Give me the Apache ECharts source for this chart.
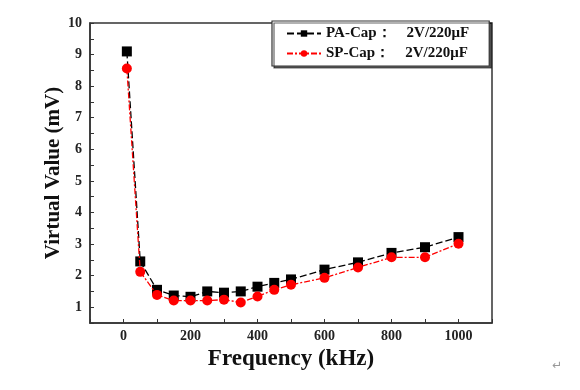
<!DOCTYPE html>
<html><head><meta charset="utf-8">
<script src="https://cdn.jsdelivr.net/npm/echarts@6/dist/echarts.min.js"></script>
<style>html,body{margin:0;padding:0;background:#fff}#c{width:580px;height:390px}</style>
</head><body><div id="c"></div>
<script>
const frequencies = [10, 50, 100, 150, 200, 250, 300, 350, 400, 450, 500, 600, 700, 800, 900, 1000];
const paCap = [9.1, 2.45, 1.55, 1.37, 1.33, 1.5, 1.46, 1.5, 1.65, 1.77, 1.88, 2.19, 2.42, 2.72, 2.9, 3.22];
const spCap = [8.56, 2.12, 1.39, 1.21, 1.21, 1.21, 1.24, 1.15, 1.34, 1.55, 1.71, 1.93, 2.26, 2.58, 2.58, 3.01];
const seriesNames = ['PA-Cap：    2V/220μF', 'SP-Cap：    2V/220μF'];
const xTitle = 'Frequency (kHz)';
const yTitle = 'Virtual Value (mV)';

const font = '"Liberation Serif", "DejaVu Serif", serif';
const chart = echarts.init(document.getElementById('c'));
chart.setOption({
  animation: false,
  backgroundColor: '#fff',
  grid: { left: 90, right: 88, top: 23, bottom: 67, show: true, borderColor: '#333', borderWidth: 1.5 },
  xAxis: {
    type: 'value', min: -100, max: 1100, interval: 100,
    axisLine: { show: true, onZero: false, lineStyle: { color: '#333', width: 1.5 } },
    axisTick: { show: true, inside: true, length: 4, lineStyle: { color: '#333' } },
    splitLine: { show: false },
    axisLabel: { fontFamily: font, fontWeight: 'bold', fontSize: 14, color: '#222', margin: 6,
      formatter: v => (v >= 0 && v % 200 === 0) ? String(v) : '' },
    name: xTitle, nameLocation: 'middle', nameGap: 24,
    nameTextStyle: { fontFamily: font, fontWeight: 'bold', fontSize: 23, color: '#111' }
  },
  yAxis: {
    type: 'value', min: 0.5, max: 10, interval: 0.5,
    axisLine: { show: true, onZero: false, lineStyle: { color: '#333', width: 1.5 } },
    axisTick: { show: true, inside: true, length: 4, lineStyle: { color: '#333' } },
    splitLine: { show: false },
    axisLabel: { fontFamily: font, fontWeight: 'bold', fontSize: 14, color: '#222', margin: 8,
      formatter: v => (Math.abs(v - Math.round(v)) < 1e-6) ? String(Math.round(v)) : '' },
    name: yTitle, nameLocation: 'middle', nameGap: 26, nameRotate: 90, nameMoveOverlap: false,
    nameTextStyle: { fontFamily: font, fontWeight: 'bold', fontSize: 21, color: '#111' }
  },
  legend: {
    left: 272, top: 21, orient: 'vertical', itemGap: 5, itemWidth: 34, itemHeight: 8,
    padding: [5, 20, 5, 14],
    borderColor: '#333', borderWidth: 1.2, backgroundColor: '#fff',
    shadowColor: 'rgba(0,0,0,0.6)', shadowOffsetX: 2, shadowOffsetY: 2, shadowBlur: 0,
    textStyle: { fontFamily: font, fontWeight: 'bold', fontSize: 15, color: '#111' },
    data: seriesNames
  },
  series: [
    { name: seriesNames[0], type: 'line', data: frequencies.map((f, i) => [f, paCap[i]]),
      symbol: 'rect', symbolSize: 10, itemStyle: { color: '#000' },
      lineStyle: { color: '#000', width: 1.3, type: [7, 3] }, z: 2 },
    { name: seriesNames[1], type: 'line', data: frequencies.map((f, i) => [f, spCap[i]]),
      symbol: 'circle', symbolSize: 10, itemStyle: { color: '#f00' },
      lineStyle: { color: '#f00', width: 1.3, type: [6, 2, 2, 2] }, z: 3 }
  ],
  graphic: [{ type: 'text', left: 552, top: 360, style: { text: '↵', fill: '#999', font: '12px "DejaVu Sans"' } }]
});
</script></body></html>
